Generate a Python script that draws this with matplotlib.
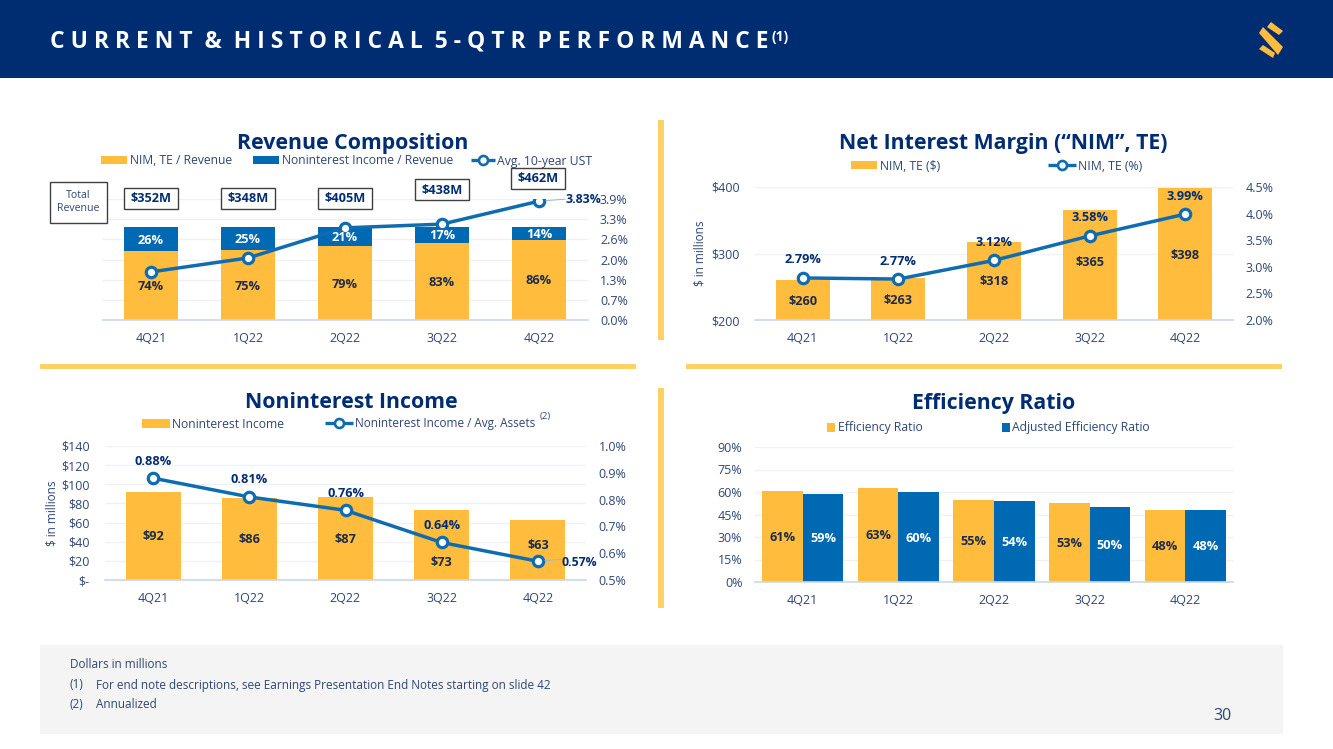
"""Rebuild the 5-quarter performance slide: four small charts plus slide furniture."""

import matplotlib

matplotlib.use("Agg")
import matplotlib.pyplot as plt
from matplotlib.patches import Polygon, Rectangle

W, H = 1333, 749

plt.rcParams["font.family"] = ["Open Sans", "DejaVu Sans"]

C_NAVY = "#002D72"
C_GOLD = "#FFBC3D"
C_BLUE = "#0069B4"
C_LINE = "#0F6CB0"
C_RULE = "#FFD064"
C_TICK = "#2F4674"
C_DARK = "#1D2B4A"
C_GRID = "#EEF1F6"
C_BASE = "#C9D8EE"

quarters = ["4Q21", "1Q22", "2Q22", "3Q22", "4Q22"]

# revenue composition
nim_share = [74, 75, 79, 83, 86]
nonint_share = [26, 25, 21, 17, 14]
ust_10y = [1.55, 2.0, 2.97, 3.09, 3.83]
total_revenue = ["$352M", "$348M", "$405M", "$438M", "$462M"]
ust_ticks = [0.0, 0.65, 1.3, 1.95, 2.6, 3.25, 3.9]
ust_tick_labels = ["0.0%", "0.7%", "1.3%", "2.0%", "2.6%", "3.3%", "3.9%"]

# net interest margin
nim_dollars = [260, 263, 318, 365, 398]
nim_pct = [2.79, 2.77, 3.12, 3.58, 3.99]
nim_ticks = [200, 300, 400]
nim_tick_labels = ["$200", "$300", "$400"]
nim_pct_ticks = [2.0, 2.5, 3.0, 3.5, 4.0, 4.5]

# noninterest income
nonint_income = [92, 86, 87, 73, 63]
nonint_pct = [0.88, 0.81, 0.76, 0.64, 0.57]
nonint_ticks = [0, 20, 40, 60, 80, 100, 120, 140]
nonint_tick_labels = ["$-", "$20", "$40", "$60", "$80", "$100", "$120", "$140"]
nonint_pct_ticks = [0.5, 0.6, 0.7, 0.8, 0.9, 1.0]

# efficiency ratio
efficiency = [61, 63, 55, 53, 48]
adj_efficiency = [59, 60, 54, 50, 48]
eff_ticks = [0, 15, 30, 45, 60, 75, 90]

fig = plt.figure(figsize=(W / 100, H / 100), dpi=100, facecolor="white")


def px_overlay(zorder):
    ov = fig.add_axes([0, 0, 1, 1], zorder=zorder)
    ov.set_xlim(0, W)
    ov.set_ylim(H, 0)
    ov.axis("off")
    return ov


# pixel-coordinate overlays: slide furniture below the charts, revenue boxes above
bg = px_overlay(0)
fg = px_overlay(5)


def px_axes(left, top, right, bottom):
    ax = fig.add_axes([left / W, 1 - bottom / H, (right - left) / W, (bottom - top) / H], zorder=2)
    ax.patch.set_alpha(0)
    return ax


def box(x0, y0, x1, y1, color, **kw):
    bg.add_patch(Rectangle((x0, y0), x1 - x0, y1 - y0, facecolor=color, edgecolor="none", **kw))


def legend_bar(x0, x1, y, h, color, label):
    box(x0, y - h / 2, x1, y + h / 2, color)
    bg.text(x1 + 2.5, y + 1, label, fontsize=8.7, color=C_TICK, va="center", ha="left")


def legend_line(x0, x1, y, label, size=8.8):
    bg.plot([x0, x1], [y, y], color=C_LINE, lw=2.4, solid_capstyle="butt")
    bg.plot([(x0 + x1) / 2], [y], marker="o", ms=6.5, mfc="white", mec=C_LINE, mew=1.9)
    bg.text(x1 + 2, y + 1, label, fontsize=size, color=C_TICK, va="center", ha="left")


def style_axes(ax, left_ticks, left_labels, left_pad=11):
    ax.set_xlim(-0.5, 4.5)
    ax.set_xticks(range(5))
    ax.set_xticklabels(quarters)
    ax.set_yticks(left_ticks)
    ax.set_yticklabels(left_labels)
    ax.tick_params(axis="x", length=0, pad=9, labelsize=9, labelcolor=C_TICK)
    ax.tick_params(axis="y", length=0, pad=left_pad, labelsize=9, labelcolor=C_TICK)
    ax.grid(axis="y", color=C_GRID, lw=1)
    ax.set_axisbelow(True)
    for side in ("top", "left", "right"):
        ax.spines[side].set_visible(False)
    ax.spines["bottom"].set_color(C_BASE)
    ax.spines["bottom"].set_linewidth(1.2)


def line_axis(ax, values, ylim, ticks, labels):
    twin = ax.twinx()
    twin.patch.set_alpha(0)
    twin.set_ylim(*ylim)
    twin.set_yticks(ticks)
    twin.set_yticklabels(labels)
    twin.tick_params(axis="y", length=0, pad=9, labelsize=9, labelcolor=C_TICK)
    for spine in twin.spines.values():
        spine.set_visible(False)
    twin.plot(range(5), values, color=C_LINE, lw=2.5, marker="o", ms=7.5,
              mfc="white", mec=C_LINE, mew=2.3, solid_capstyle="round")
    return twin


def label(host, data_ax, x, y, text, dx=0, dy=0, color=C_DARK, size=9.2):
    # drawn on the top axis so the line never hides the text, placed in data_ax units
    host.annotate(text, (x, y), xycoords=data_ax.transData, xytext=(dx, dy - 1),
                  textcoords="offset pixels", ha="center", va="center", fontsize=size,
                  fontweight="bold", color=color)


def leader(ax, x, y, dx):
    ax.annotate("", (x, y), xytext=(dx, 2), textcoords="offset pixels",
                arrowprops=dict(arrowstyle="-", color="#9DB6D6", lw=0.7, shrinkA=0, shrinkB=5))


# header, rules and footer
box(0, 0, W, 78, C_NAVY)
bg.text(50, 41.5, "C U R R E N T  &  H I S T O R I C A L  5 - Q T R  P E R F O R M A N C E",
        color="white", fontsize=16.5, fontweight="bold", va="center", ha="left")
bg.text(771, 37, "(1)", color="white", fontsize=10, fontweight="bold", va="center", ha="left")
for pts in (
    [(1267, 27), (1271, 22), (1283, 31), (1279, 35)],
    [(1259, 33), (1263, 27), (1283, 47), (1278, 55)],
    [(1259, 49), (1263, 45), (1275, 53), (1273, 58)],
):
    bg.add_patch(Polygon(pts, closed=True, facecolor=C_GOLD, edgecolor="none"))

box(40, 364, 636, 369, C_RULE)
box(686, 364, 1282, 369, C_RULE)
box(658, 120, 664, 340, C_RULE)
box(658, 388, 664, 608, C_RULE)

box(40, 645, 1283, 734, "#F4F4F4")
bg.text(70, 664, "Dollars in millions", fontsize=8.45, color=C_TICK, va="center")
bg.text(70, 685, "(1)", fontsize=8.45, color=C_TICK, va="center")
bg.text(96, 685, "For end note descriptions, see Earnings Presentation End Notes starting on slide 42",
        fontsize=8.45, color=C_TICK, va="center")
bg.text(70, 705, "(2)", fontsize=8.45, color=C_TICK, va="center")
bg.text(96, 705, "Annualized", fontsize=8.45, color=C_TICK, va="center")
bg.text(1222, 715.5, "30", fontsize=11.5, color=C_TICK, va="center", ha="center")

# titles and legends
for x, y, title in (
    (353, 143, "Revenue Composition"),
    (1003, 143, "Net Interest Margin (“NIM”, TE)"),
    (351, 402, "Noninterest Income"),
    (994, 404, "Efficiency Ratio"),
):
    bg.text(x, y, title, fontsize=15.3, fontweight="bold", color=C_NAVY, ha="center", va="center")

legend_bar(101, 127, 160, 8, C_GOLD, "NIM, TE / Revenue")
legend_bar(253, 279, 160, 8, C_BLUE, "Noninterest Income / Revenue")
legend_line(471, 495, 160, "Avg. 10-year UST")
legend_bar(851, 877, 165, 8, C_GOLD, "NIM, TE ($)")
legend_line(1048, 1076, 165, "NIM, TE (%)")
legend_bar(142, 170, 423, 9, C_GOLD, "Noninterest Income")
legend_line(325, 353, 423, "Noninterest Income / Avg. Assets", size=8.5)
bg.text(540, 417, "(2)", fontsize=6.8, color=C_TICK, va="center", ha="left")
legend_bar(827, 835, 427, 9, C_GOLD, "Efficiency Ratio")
legend_bar(1002, 1010, 427, 9, C_BLUE, "Adjusted Efficiency Ratio")

# total revenue boxes
fg.add_patch(Rectangle((50, 182), 57, 41, facecolor="white", edgecolor="#404040", lw=1))
fg.text(78, 202, "Total\nRevenue", fontsize=7.6, color=C_TICK, ha="center", va="center", linespacing=1.3)
box_y = [198, 198, 198, 189, 178]
box_x = [151, 248, 345, 442, 538]
for x, y, text in zip(box_x, box_y, total_revenue):
    fg.add_patch(Rectangle((x - 27, y - 10.5), 54, 21, facecolor="white", edgecolor="#404040", lw=1))
    fg.text(x, y + 1, text, fontsize=9.2, fontweight="bold", color=C_NAVY, ha="center", va="center")

# revenue composition
ax1 = px_axes(102.5, 199, 587.5, 320)
ax1.set_ylim(0, 130)
ax1.bar(range(5), nim_share, width=0.56, color=C_GOLD)
ax1.bar(range(5), nonint_share, width=0.56, bottom=nim_share, color=C_BLUE)
style_axes(ax1, [t / 3.9 * 130 for t in ust_ticks], [""] * 7)
tw1 = line_axis(ax1, ust_10y, (0, 3.9), ust_ticks, ust_tick_labels)
for i in range(5):
    label(tw1, ax1, i, nim_share[i] / 2, f"{nim_share[i]}%")
    label(tw1, ax1, i, nim_share[i] + nonint_share[i] / 2, f"{nonint_share[i]}%", color="white")
leader(tw1, 4, ust_10y[4], 26)
label(tw1, tw1, 4, ust_10y[4], "3.83%", 44, 3, color=C_NAVY, size=8.8)

# net interest margin
ax2 = px_axes(755, 187, 1233, 320)
ax2.set_ylim(200, 400)
ax2.bar(range(5), nim_dollars, width=0.565, color=C_GOLD)
style_axes(ax2, nim_ticks, nim_tick_labels)
ax2.set_ylabel("$ in millions", fontsize=8.5, color=C_TICK, labelpad=3)
tw2 = line_axis(ax2, nim_pct, (2.0, 4.5), nim_pct_ticks, [f"{t:.1f}%" for t in nim_pct_ticks])
nim_dollar_dy = [0, 0, 0, 4, 0]
for i in range(5):
    label(tw2, ax2, i, (200 + nim_dollars[i]) / 2, f"${nim_dollars[i]}", dy=nim_dollar_dy[i])
    label(tw2, tw2, i, nim_pct[i], f"{nim_pct[i]:.2f}%", dy=19, color=C_NAVY)

# noninterest income
ax3 = px_axes(105, 446, 586, 580)
ax3.set_ylim(0, 140)
ax3.bar(range(5), nonint_income, width=0.57, color=C_GOLD)
style_axes(ax3, nonint_ticks, nonint_tick_labels)
ax3.set_ylabel("$ in millions", fontsize=8.5, color=C_TICK, labelpad=2)
tw3 = line_axis(ax3, nonint_pct, (0.5, 1.0), nonint_pct_ticks, [f"{t:.1f}%" for t in nonint_pct_ticks])
nonint_dollar_dy = [0, 0, 0, -16, 5]
for i in range(5):
    label(tw3, ax3, i, nonint_income[i] / 2, f"${nonint_income[i]}", dy=nonint_dollar_dy[i])
    if i < 4:
        label(tw3, tw3, i, nonint_pct[i], f"{nonint_pct[i]:.2f}%", dy=18, color=C_NAVY)
leader(tw3, 4, nonint_pct[4], 24)
label(tw3, tw3, 4, nonint_pct[4], "0.57%", 41, 0, color=C_NAVY, size=8.8)

# efficiency ratio
ax4 = px_axes(755, 447, 1233, 582)
ax4.set_ylim(0, 90)
bw = 0.425
ax4.bar([i - bw / 2 for i in range(5)], efficiency, width=bw, color=C_GOLD)
ax4.bar([i + bw / 2 for i in range(5)], adj_efficiency, width=bw, color=C_BLUE)
style_axes(ax4, eff_ticks, [f"{t}%" for t in eff_ticks], left_pad=9)
for i in range(5):
    label(ax4, ax4, i - bw / 2, efficiency[i] / 2, f"{efficiency[i]}%")
    label(ax4, ax4, i + bw / 2, adj_efficiency[i] / 2, f"{adj_efficiency[i]}%", color="white")

fig.savefig("out.png", dpi=100)
